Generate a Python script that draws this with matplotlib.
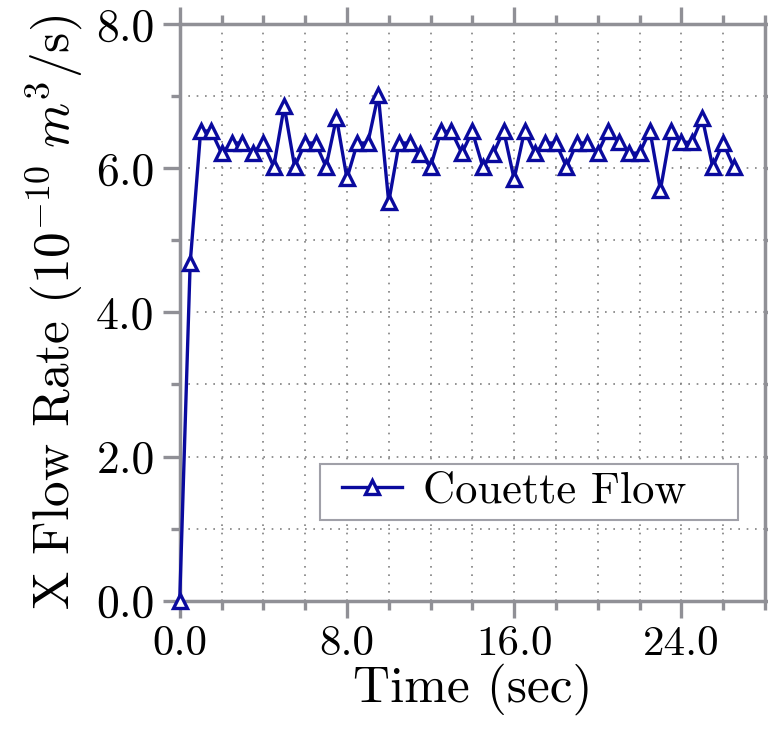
import numpy as np
import matplotlib
matplotlib.use("Agg")
from matplotlib import pyplot as plt
from matplotlib.path import Path
from matplotlib.ticker import MultipleLocator, FormatStrFormatter

plt.rcParams['font.family'] = 'serif'
plt.rcParams['font.serif'] = ['cmr10', 'DejaVu Serif']
plt.rcParams['mathtext.fontset'] = 'cm'
plt.rcParams['axes.formatter.use_mathtext'] = True

# time step of 0.5 s
time = np.arange(54) * 0.5
flow_rate = [
    0.0, 4.68, 6.51, 6.52, 6.21, 6.35, 6.35, 6.21, 6.35, 6.02,
    6.86, 6.02, 6.35, 6.35, 6.02, 6.70, 5.86, 6.35, 6.35, 7.02,
    5.53, 6.35, 6.35, 6.20, 6.02, 6.51, 6.51, 6.21, 6.51, 6.02,
    6.20, 6.52, 5.85, 6.52, 6.21, 6.35, 6.35, 6.02, 6.35, 6.35,
    6.21, 6.52, 6.36, 6.21, 6.21, 6.52, 5.70, 6.52, 6.36, 6.36,
    6.70, 6.02, 6.35, 6.02,
]
series_label = 'Couette Flow'


def wide_box(x0, y0, width, height, mutation_size, *args):
    # legend frame with extra room on the left and (more) on the right
    left = 0.32 * mutation_size
    right = 0.97 * mutation_size
    x1 = x0 - left
    x2 = x0 + width + right
    y1 = y0 + height
    return Path([(x1, y0), (x2, y0), (x2, y1), (x1, y1), (x1, y0)], closed=True)


fig = plt.figure(figsize=(7.68, 7.29), dpi=100)
ax = fig.add_axes([0.234, 0.176, 0.762, 0.791])

blue = '#0a0a9e'
ax.plot(time, flow_rate, '-^', color=blue, lw=2.4, ms=10,
        mfc='white', mec=blue, mew=2.4, label=series_label, clip_on=False, zorder=3)

ax.set_xlim(0, 28)
ax.set_ylim(0, 8)
ax.xaxis.set_major_locator(MultipleLocator(8))
ax.xaxis.set_minor_locator(MultipleLocator(2))
ax.yaxis.set_major_locator(MultipleLocator(2))
ax.yaxis.set_minor_locator(MultipleLocator(1))
ax.xaxis.set_major_formatter(FormatStrFormatter('%.1f'))
ax.yaxis.set_major_formatter(FormatStrFormatter('%.1f'))

ax.grid(which='both', color='#808080', linestyle=(0, (1, 4)), lw=1.2)

spine_col = '#909096'
for s in ax.spines.values():
    s.set_color(spine_col)
    s.set_linewidth(2.5)
ax.tick_params(which='both', direction='out', color=spine_col, top=True, right=True,
               labeltop=False, labelright=False, pad=6)
ax.tick_params(which='major', length=12, width=2.4)
ax.tick_params(which='minor', length=6.5, width=2.4)
ax.tick_params(axis='x', labelsize=31)
ax.tick_params(axis='y', labelsize=33)

ax.set_xlabel('Time (sec)', fontsize=37, labelpad=0)
ax.set_ylabel(r'X Flow Rate $(10^{-10}\ m^3/\mathrm{s})$', fontsize=37, labelpad=8)

leg = ax.legend(loc='lower right', bbox_to_anchor=(0.880, 0.14), borderaxespad=0,
                fontsize=32, fancybox=False, framealpha=1, edgecolor='#a0a0a8',
                handlelength=1.35, handletextpad=0.47, borderpad=0.18)
leg.get_frame().set_linewidth(1.5)
leg.get_frame().set_boxstyle(wide_box)

fig.savefig('out.png', dpi=100)
